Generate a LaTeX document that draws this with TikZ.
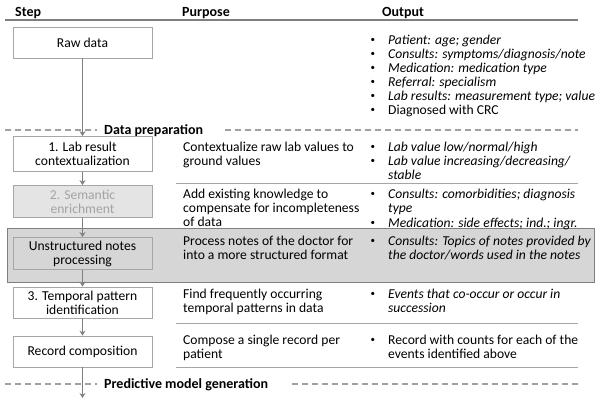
\documentclass[tikz,border=0pt]{standalone}
\usepackage{fontspec}
\setmainfont{Carlito}
\usetikzlibrary{arrows.meta}
\definecolor{boxline}{HTML}{A6A6A6}
\definecolor{arrowc}{HTML}{808080}
\definecolor{dashc}{HTML}{A0A0A0}
\definecolor{regionfill}{HTML}{D6D6D6}
\definecolor{regionline}{HTML}{7F7F7F}
\definecolor{fadedfill}{HTML}{E4E4E4}
\definecolor{fadedtext}{HTML}{A3A3A3}
\definecolor{sepc}{HTML}{A6A6A6}
\newcommand{\bul}{\llap{\raisebox{1.2pt}{\fontsize{9}{9}\selectfont\textbullet}\hspace{13pt}}}
\begin{document}
\begin{tikzpicture}[x=1pt,y=-1pt,
  every node/.style={font=\fontsize{13.6}{14}\selectfont, inner sep=0pt},
  stepbox/.style={draw=boxline, fill=white, line width=0.8pt, minimum width=139pt, align=center},
  fadedbox/.style={stepbox, fill=fadedfill, text=fadedtext},
  notesbox/.style={stepbox, fill=regionfill},
  cell/.style={anchor=north west, align=left},
  head/.style={anchor=base west, font=\fontsize{14}{14}\selectfont\bfseries},
  flow/.style={draw=arrowc, line width=1.5pt, -{Stealth[length=5pt,width=6pt]}},
  dashline/.style={draw=dashc, line width=1.3pt, dash pattern=on 6pt off 4pt},
  sepline/.style={draw=sepc, line width=0.8pt},
  sectlabel/.style={anchor=base west, font=\fontsize{14}{14}\selectfont\bfseries}
]
\useasboundingbox (0,0) rectangle (601,400);

% header
\node[head] (hstep) at (15,16.5) {Step};
\node[head] (hpurp) at (182,16.5) {Purpose};
\node[head] (hout) at (382,16.5) {Output};
\draw[draw=regionline, line width=2pt] (5,19.5) -- (578,19.5);

% gray region
\fill[regionfill] (7,228) rectangle (594,282);
\draw[draw=regionline, line width=0.9pt] (7,228) rectangle (594,282);

% section dashed lines
\draw[dashline] (5,130) -- (97,130);
\draw[dashline] (225,130) -- (578,130);
\node[sectlabel] (sprep) at (104,134.5) {Data preparation};
\draw[dashline] (5,384) -- (97,384);
\draw[dashline] (292,384) -- (578,384);
\node[sectlabel] (spred) at (104,388.5) {Predictive model generation};

% separators
\draw[sepline] (176,183) -- (578,183);
\draw[sepline] (176,323) -- (578,323);
\draw[sepline] (176,367) -- (578,367);

% step boxes
\node[stepbox, minimum height=31pt] (raw) at (82.5,42.5) {Raw data};
\node[stepbox, minimum height=35pt] (lab) at (82.5,154) {1. Lab result\\contextualization};
\node[fadedbox, minimum height=32pt] (sem) at (82.5,201.5) {2. Semantic\\enrichment};
\node[notesbox, minimum height=32pt] (notes) at (82.5,253.5) {Unstructured notes\\processing};
\node[stepbox, minimum height=31pt] (temp) at (82.5,302.5) {3. Temporal pattern\\identification};
\node[stepbox, minimum height=31pt] (rec) at (82.5,351.5) {Record composition};
\coordinate (end) at (82.5,398);

% flow
\draw[flow] (raw) -- (lab);
\draw[flow] (lab) -- (sem);
\draw[flow] (sem) -- (notes);
\draw[flow] (notes) -- (temp);
\draw[flow] (temp) -- (rec);
\draw[flow] (rec) -- (end);

% purpose column
\node[cell] (p1) at (183,141) {\strut Contextualize raw lab values to\\ground values};
\node[cell] (p2) at (183,188) {\strut Add existing knowledge to\\compensate for incompleteness\\of data};
\node[cell] (p3) at (183,235) {\strut Process notes of the doctor for\\into a more structured format};
\node[cell] (p4) at (183,288) {\strut Find frequently occurring\\temporal patterns in data};
\node[cell] (p5) at (183,334) {\strut Compose a single record per\\patient};

% output column
\node[cell] (o0) at (388,34) {\strut\bul\textit{Patient: age; gender}\\
\bul\textit{Consults: symptoms/diagnosis/note}\\
\bul\textit{Medication: medication type}\\
\bul\textit{Referral: specialism}\\
\bul\textit{Lab results: measurement type; value}\\
\bul Diagnosed with CRC};
\node[cell] (o1) at (388,141) {\strut\bul\textit{Lab value low/normal/high}\\
\bul\textit{Lab value increasing/decreasing/}\\
\textit{stable}};
\node[cell] (o2) at (388,188) {\strut\bul\textit{Consults: comorbidities; diagnosis}\\
\textit{type}\\[1pt]
\bul\textit{Medication: side effects; ind.; ingr.}};
\node[cell] (o3) at (388,235) {\strut\bul\textit{Consults: Topics of notes provided by}\\
\textit{the doctor/words used in the notes}};
\node[cell] (o4) at (388,288) {\strut\bul\textit{Events that co-occur or occur in}\\
\textit{succession}};
\node[cell] (o5) at (388,334) {\strut\bul Record with counts for each of the\\
events identified above};
\end{tikzpicture}
\end{document}
